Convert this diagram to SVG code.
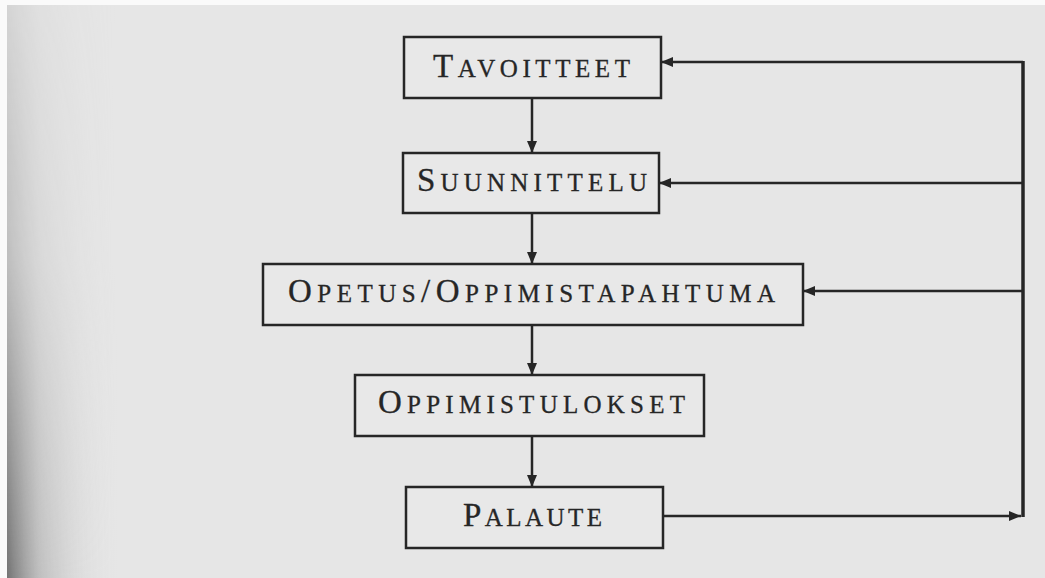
<svg xmlns="http://www.w3.org/2000/svg" width="1045" height="578" viewBox="0 0 1045 578">
<defs>
<linearGradient id="edge" x1="0" y1="0" x2="1" y2="0">
<stop offset="0" stop-color="#666" stop-opacity="0.9"/>
<stop offset="0.3" stop-color="#9a9a9a" stop-opacity="0.5"/>
<stop offset="1" stop-color="#e4e4e4" stop-opacity="0"/>
</linearGradient>
<linearGradient id="fadeV" x1="0" y1="0" x2="0" y2="1">
<stop offset="0" stop-color="#fff" stop-opacity="0.15"/>
<stop offset="0.45" stop-color="#fff" stop-opacity="0.35"/>
<stop offset="1" stop-color="#fff" stop-opacity="1"/>
</linearGradient>
<mask id="m" maskUnits="userSpaceOnUse" x="0" y="0" width="130" height="578"><rect x="0" y="0" width="130" height="578" fill="url(#fadeV)"/></mask>
<marker id="ah" viewBox="0 0 12 10" refX="12" refY="5" markerWidth="12" markerHeight="10" markerUnits="userSpaceOnUse" orient="auto">
<path d="M0,0 L12,5 L0,10 Z" fill="#262626"/>
</marker>
</defs>
<style>
.box{fill:#e8e8e8;stroke:#262626;stroke-width:2.5}
.ln{fill:none;stroke:#262626;stroke-width:2.5}
.t{font-family:"Liberation Serif",serif;fill:#262626;stroke:#262626;stroke-width:0.3}
.b{font-size:33px}
.s{font-size:25px}
</style>
<rect width="1045" height="578" fill="#fafafa"/>
<rect x="7" y="5" width="1038" height="573" fill="#e6e6e6"/>
<rect x="7" y="5" width="110" height="573" fill="url(#edge)" mask="url(#m)"/>

<g id="connectors">
<line class="ln" x1="532" y1="98" x2="532" y2="153" marker-end="url(#ah)"/>
<line class="ln" x1="532" y1="213" x2="532" y2="264" marker-end="url(#ah)"/>
<line class="ln" x1="532" y1="325" x2="532" y2="375" marker-end="url(#ah)"/>
<line class="ln" x1="532" y1="436" x2="532" y2="487" marker-end="url(#ah)"/>
<line class="ln" x1="663" y1="516" x2="1021" y2="516" marker-end="url(#ah)"/>
<line x1="1023" y1="61" x2="1023" y2="517" stroke="#262626" stroke-width="3.5"/>
<line class="ln" x1="1023" y1="62" x2="661" y2="62" marker-end="url(#ah)"/>
<line class="ln" x1="1023" y1="183" x2="659" y2="183" marker-end="url(#ah)"/>
<line class="ln" x1="1023" y1="291" x2="803" y2="291" marker-end="url(#ah)"/>
</g>

<g id="n1">
<rect class="box" x="404" y="37" width="257" height="61"/>
<text class="t" x="433" y="77" textLength="197" lengthAdjust="spacing"><tspan class="b">T</tspan><tspan class="s">AVOITTEET</tspan></text>
</g>
<g id="n2">
<rect class="box" x="403" y="153" width="256" height="60"/>
<text class="t" x="417" y="191" textLength="230" lengthAdjust="spacing"><tspan class="b">S</tspan><tspan class="s">UUNNITTELU</tspan></text>
</g>
<g id="n3">
<rect class="box" x="263" y="264" width="540" height="61"/>
<text class="t" x="288" y="302" textLength="487" lengthAdjust="spacing"><tspan class="b">O</tspan><tspan class="s">PETUS</tspan><tspan class="b">/O</tspan><tspan class="s">PPIMISTAPAHTUMA</tspan></text>
</g>
<g id="n4">
<rect class="box" x="355" y="375" width="349" height="61"/>
<text class="t" x="378" y="413" textLength="307" lengthAdjust="spacing"><tspan class="b">O</tspan><tspan class="s">PPIMISTULOKSET</tspan></text>
</g>
<g id="n5">
<rect class="box" x="406" y="487" width="257" height="61"/>
<text class="t" x="463" y="526" textLength="139" lengthAdjust="spacing"><tspan class="b">P</tspan><tspan class="s">ALAUTE</tspan></text>
</g>
</svg>
